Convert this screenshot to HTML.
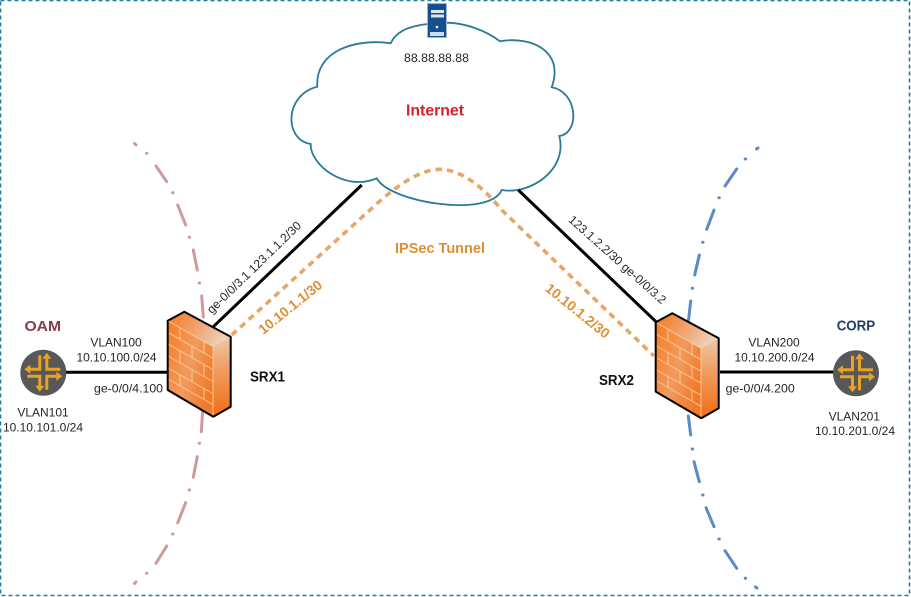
<!DOCTYPE html>
<html lang="en">
<head>
<meta charset="utf-8">
<title>SRX IPSec Tunnel Diagram</title>
<style>
html,body{margin:0;padding:0;background:#fff;}
body{width:911px;height:597px;overflow:hidden;}
svg{display:block;}
text{font-family:"Liberation Sans",sans-serif;font-size:12px;fill:#262626;}
.b{font-weight:bold;}
</style>
</head>
<body>
<svg width="911" height="597" viewBox="0 0 911 597" xmlns="http://www.w3.org/2000/svg">
<defs>
<linearGradient id="front" x1="0" y1="0" x2="1" y2="0.6">
<stop offset="0" stop-color="#f67c22"/>
<stop offset="0.55" stop-color="#f29a60"/>
<stop offset="1" stop-color="#f07a2a"/>
</linearGradient>
<linearGradient id="top" x1="0" y1="0.3" x2="1" y2="0.7">
<stop offset="0" stop-color="#f47f2a"/>
<stop offset="0.6" stop-color="#eeb085"/>
<stop offset="1" stop-color="#efd9c4"/>
</linearGradient>
<linearGradient id="side" x1="0" y1="0" x2="0" y2="1">
<stop offset="0" stop-color="#edc8a8"/>
<stop offset="0.45" stop-color="#ef9a5c"/>
<stop offset="1" stop-color="#f26d10"/>
</linearGradient>
<g id="fw">
<path d="M167.7 320.7 L184.3 311.7 L230.7 336.7 L213.3 346.7 Z" fill="url(#top)"/>
<path d="M167.7 320.7 L213.3 346.7 V416.7 L167.7 390 Z" fill="url(#front)"/>
<path d="M213.3 346.7 L230.7 336.7 V406.7 L213.3 416.7 Z" fill="url(#side)"/>
<g transform="matrix(1,0.57,0,1,168,321)" stroke="#fbd9a8" stroke-width="0.9" fill="none" opacity="0.85">
<path d="M0 0H45M0 11.5H45M0 23H45M0 35H45M0 47H45M0 58H45"/>
<path d="M12 0V11.5M24 11.5V23M12 23V35M24 35V47M12 47V58M36 0V11.5M36 23V35M36 47V58M45 0V70"/>
</g>
<path d="M167.7 320.7 L184.3 311.7 L230.7 336.7 V406.7 L213.3 416.7 L167.7 390 Z" fill="none" stroke="#000" stroke-width="2" stroke-linejoin="round"/>
</g>
<g id="rt" fill="none" stroke="#e9a224" stroke-width="3">
<circle cx="0" cy="0" r="23" fill="#58585a" stroke="none"/>
<path d="M-3.5 -17.5V-3.5H-14"/>
<path d="M3.5 -14V-3.5H17"/>
<path d="M14 3.5H3.5V17"/>
<path d="M-16 3.5H-3.5V14"/>
<path d="M-19 -3.5L-13 -8V1Z M3.5 -20L-1 -14H8Z M19 3.5L13 -1V8Z M-3.5 19L-8 13H1Z" fill="#e9a224" stroke="none"/>
</g>
</defs>

<rect width="911" height="597" fill="#fff"/>
<rect x="0.5" y="0.5" width="909" height="595" fill="none" stroke="#1f7f9f" stroke-width="1.6" stroke-dasharray="4 3"/>

<!-- OAM arc -->
<g stroke="#cf9a9c" stroke-width="3" fill="none" stroke-linecap="round">
<path d="M134.5 143.5L136 145"/>
<path d="M146.5 153.3h.4"/>
<path d="M156 166L166.7 181.7"/>
<path d="M172.6 192.7h.4"/>
<path d="M177.7 205L185.7 225"/>
<path d="M189.2 237.3h.4"/>
<path d="M193.3 250L197.3 270"/>
<path d="M199.2 283h.4"/>
<path d="M201.7 296L203.3 317"/>
<path d="M202.7 410L201.3 431.7"/>
<path d="M199.2 443.3h.4"/>
<path d="M197.3 456.7L193.3 477.3"/>
<path d="M189.2 490h.4"/>
<path d="M185.7 502.7L177.7 522.7"/>
<path d="M172.6 534h.4"/>
<path d="M166.7 546L156 563.3"/>
<path d="M146.5 573.3h.4"/>
<path d="M136 582L134.5 583.5"/>
</g>
<!-- CORP arc -->
<g stroke="#5b8ac4" stroke-width="3" fill="none" stroke-linecap="round">
<path d="M758 148L756.5 149"/>
<path d="M745.2 159h.4"/>
<path d="M736.7 169L725 186"/>
<path d="M718.9 197.7h.4"/>
<path d="M714 210L706.7 229.3"/>
<path d="M702.6 242.3h.4"/>
<path d="M699.3 255L694.7 275"/>
<path d="M692.2 288.3h.4"/>
<path d="M690.7 301L688.3 322"/>
<path d="M688.3 416L690.7 435"/>
<path d="M692.2 449h.4"/>
<path d="M694 461.7L699.3 481.7"/>
<path d="M702.6 495h.4"/>
<path d="M706 507.7L714 526.7"/>
<path d="M718.9 539h.4"/>
<path d="M725 550.7L736.7 568.3"/>
<path d="M745.2 578.3h.4"/>
<path d="M755.5 587L757 588"/>
</g>

<!-- Cloud -->
<path d="M427.7 24 C405 26.7 395 33.3 390.7 43.3 C356.7 38.3 315 50 317.3 86.7 C284 95 284 140 310.7 144 C310 165 345 192 376.7 178.3 C390 203 490 218 501.7 190 C530 195 568 170 559.3 136 C580 133 578 92 551.7 87.3 C565 50 530 36 500 41.3 C485 30 465 23 446.7 22.7" fill="#fff" stroke="#2b7a97" stroke-width="1.8"/>

<!-- Links -->
<g stroke="#000" stroke-width="3" fill="none">
<path d="M361.7 185L213.3 326.7"/>
<path d="M518.3 190L656 321.7"/>
<path d="M63 372.3H168"/>
<path d="M720 372H835"/>
</g>

<!-- Tunnel -->
<path d="M231.7 335 L366.7 213 C385 196 415 169 440 169.3 C465 170 487 192 501.7 210 L654 356" fill="none" stroke="#e6a86a" stroke-width="3.6" stroke-dasharray="6.5 5"/>

<use href="#fw"/>
<use href="#fw" transform="translate(488,1.6)"/>
<use href="#rt" transform="translate(43.3,372.7)"/>
<use href="#rt" transform="translate(856,373.3)"/>

<!-- Server -->
<g>
<rect x="427.5" y="3.5" width="19" height="34" fill="#14508c" stroke="#9fb6cc" stroke-width="1"/>
<rect x="431" y="10" width="13" height="3" fill="#dce6f0"/>
<rect x="431" y="14.5" width="13" height="3" fill="#dce6f0"/>
<circle cx="437" cy="27" r="1.3" fill="#e8f0f8"/>
<rect x="430" y="32" width="14" height="4" fill="#cfdcea"/>
</g>

<!-- Labels -->
<text x="436.5" y="62" text-anchor="middle" textLength="65" lengthAdjust="spacingAndGlyphs">88.88.88.88</text>
<text class="b" x="406" y="115.7" style="font-size:16px;fill:#d8202c" textLength="58" lengthAdjust="spacingAndGlyphs">Internet</text>
<text class="b" x="395" y="253" style="font-size:15px;fill:#e08e35" textLength="90" lengthAdjust="spacingAndGlyphs">IPSec Tunnel</text>

<text class="b" x="24.5" y="331" style="font-size:15px;fill:#8a3a4a" textLength="36.5" lengthAdjust="spacingAndGlyphs">OAM</text>
<text x="116" y="346.7" text-anchor="middle">VLAN100</text>
<text x="116.5" y="361.7" text-anchor="middle">10.10.100.0/24</text>
<text x="94" y="392.5" textLength="69" lengthAdjust="spacingAndGlyphs">ge-0/0/4.100</text>
<text x="43" y="416.7" text-anchor="middle">VLAN101</text>
<text x="43" y="431.7" text-anchor="middle">10.10.101.0/24</text>
<text class="b" x="250" y="381.7" style="font-size:15px;fill:#111" textLength="35" lengthAdjust="spacingAndGlyphs">SRX1</text>

<text class="b" x="599" y="385" style="font-size:15px;fill:#111" textLength="35" lengthAdjust="spacingAndGlyphs">SRX2</text>
<text class="b" x="836.7" y="330.7" style="font-size:15px;fill:#1f3f66" textLength="38.5" lengthAdjust="spacingAndGlyphs">CORP</text>
<text x="774" y="346.7" text-anchor="middle">VLAN200</text>
<text x="774.5" y="361.7" text-anchor="middle">10.10.200.0/24</text>
<text x="725.7" y="392.7" textLength="69" lengthAdjust="spacingAndGlyphs">ge-0/0/4.200</text>
<text x="854.3" y="420.7" text-anchor="middle">VLAN201</text>
<text x="855" y="435" text-anchor="middle">10.10.201.0/24</text>

<text transform="translate(211.7,314.3) rotate(-44.2)" textLength="126" lengthAdjust="spacingAndGlyphs">ge-0/0/3.1 123.1.1.2/30</text>
<text transform="translate(567.7,220.7) rotate(41.8)" textLength="126" lengthAdjust="spacingAndGlyphs">123.1.2.2/30 ge-0/0/3.2</text>
<text class="b" transform="translate(263.3,335) rotate(-38.8)" style="font-size:14px;fill:#e08e35" textLength="77" lengthAdjust="spacingAndGlyphs">10.10.1.1/30</text>
<text class="b" transform="translate(544.3,290) rotate(39)" style="font-size:14px;fill:#e08e35" textLength="78" lengthAdjust="spacingAndGlyphs">10.10.1.2/30</text>
</svg>
</body>
</html>
